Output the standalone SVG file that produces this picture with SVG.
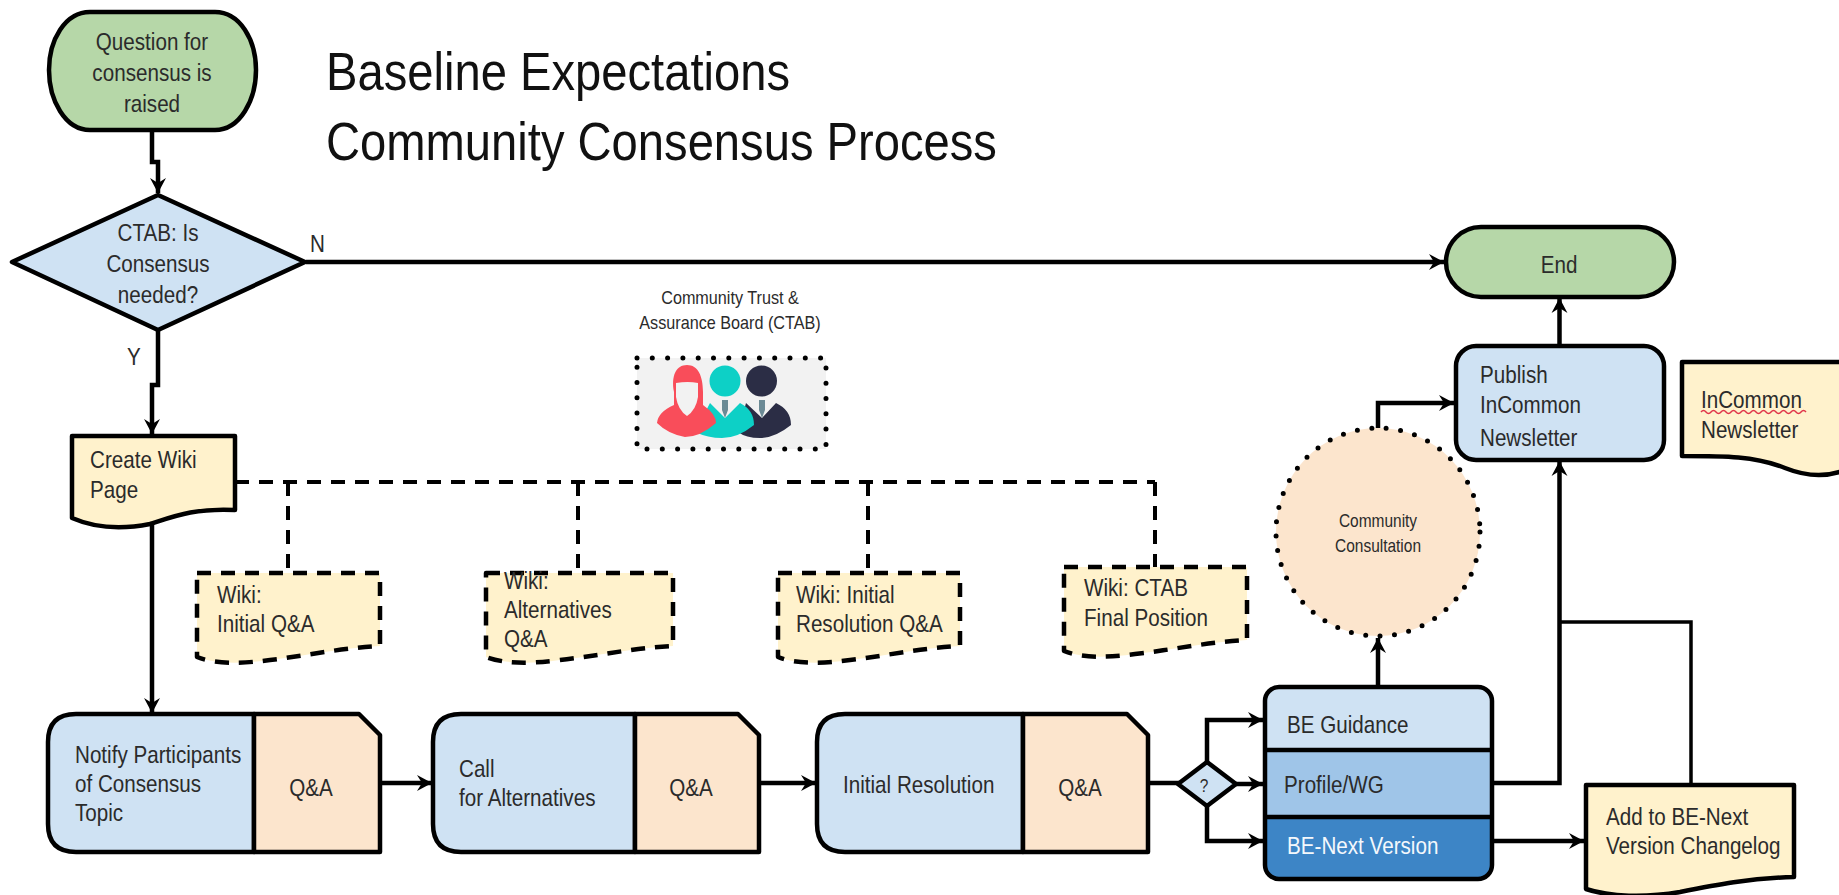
<svg xmlns="http://www.w3.org/2000/svg" width="1839" height="895" viewBox="0 0 1839 895">
<style>
text{font-family:"Liberation Sans",Arial,sans-serif;font-size:24px;fill:#2b2b2b}
.m{text-anchor:middle}
.s{font-size:18px}
.t{font-size:53px;fill:#111}
.w{fill:#f4f8fc}
.sh{stroke:#000;stroke-width:4.5;stroke-linejoin:round}
.g{fill:#b6d7a8}.b{fill:#cfe2f3}.p{fill:#fce5cd}.y{fill:#fff2cc}
.da{stroke-dasharray:14 10}
.c{fill:none;stroke:#000;stroke-width:4.5;stroke-linejoin:miter}
.ar{marker-end:url(#a)}
.d{fill:none;stroke:#000;stroke-width:4;stroke-dasharray:14 10}
</style>
<defs>
<marker id="a" markerUnits="userSpaceOnUse" viewBox="-15 -9 17 18" refX="1" refY="0" markerWidth="17" markerHeight="18" orient="auto">
<path d="M-14,-8 L1,0 L-14,8 L-9,0 Z" fill="#000"/>
</marker>
</defs>
<rect width="1839" height="895" fill="#fff"/>
<g id="title">
<text class="t" transform="matrix(.89 0 0 1 326 90)">Baseline Expectations</text>
<text class="t" transform="matrix(.89 0 0 1 326 160)">Community Consensus Process</text>
</g>
<g id="connectors">
<path class="c ar" d="M152,131V162H158V193"/>
<path class="c ar" d="M158,331V385H152V434"/>
<path class="c ar" d="M306,262H1444"/>
<path class="c ar" d="M152,510V713"/>
<path class="c ar" d="M380,783H432"/>
<path class="c ar" d="M759,783H816"/>
<path class="c" d="M1148,783H1179"/>
<path class="c ar" d="M1207,762V720H1263"/>
<path class="c ar" d="M1236,784H1263"/>
<path class="c ar" d="M1207,806V841H1263"/>
<path class="c ar" d="M1378,687V638"/>
<path class="c ar" d="M1378,428V403H1454"/>
<path class="c ar" d="M1492,783H1559.500V461"/>
<path class="c" style="stroke-width:3.500" d="M1559,622H1691V785"/>
<path class="c ar" d="M1492,841H1584"/>
<path class="c ar" d="M1559.500,346V298"/>
<path class="d" d="M235,482H1155M288,482V573M578,482V572M868,482V573M1155,482V567"/>
</g>
<g id="start">
<path class="sh g" d="M90,12H215C240,12 256,40 256,70C256,100 240,130 215,130H90C65,130 49,100 49,70C49,40 65,12 90,12Z"/>
<text class="m" transform="matrix(.86 0 0 1 152 50)">Question for</text>
<text class="m" transform="matrix(.86 0 0 1 152 81)">consensus is</text>
<text class="m" transform="matrix(.86 0 0 1 152 112)">raised</text>
</g>
<g id="decision">
<path class="sh b" d="M158,195L305,262L158,330L12,262Z"/>
<text class="m" transform="matrix(.86 0 0 1 158 241)">CTAB: Is</text>
<text class="m" transform="matrix(.86 0 0 1 158 272)">Consensus</text>
<text class="m" transform="matrix(.86 0 0 1 158 303)">needed?</text>
<text transform="matrix(.86 0 0 1 310 252)">N</text>
<text transform="matrix(.86 0 0 1 127 365)">Y</text>
</g>
<g id="ctab">
<text class="m s" transform="matrix(.9 0 0 1 730 304)">Community Trust &amp;</text>
<text class="m s" transform="matrix(.9 0 0 1 730 329)">Assurance Board (CTAB)</text>
<rect x="637" y="358" width="189" height="91" fill="#f2f2f2"/>
<rect x="637" y="358" width="189" height="91" fill="none" stroke="#000" stroke-width="5" stroke-linecap="round" stroke-dasharray="0 15.300"/>
<circle cx="761.500" cy="381" r="15.500" fill="#2b2d45"/>
<path d="M746,403L762,418L776,403Q791,410 791,425Q775,438 760,438Q746,438 738,432Z" fill="#2b2d45"/>
<circle cx="725" cy="381" r="15.500" fill="#0dd0c6"/>
<path d="M710,403L725,418L740,403Q754,410 754,425Q738,438 722,438Q708,438 695,432Z" fill="#0dd0c6"/>
<path d="M687,365C698,365 703,376 703,392V405Q716,414 716,423Q700,437 685,437Q668,434 657,423Q658,412 674,405V392C671,376 676,365 687,365Z" fill="#f94d5a"/>
<path d="M676,383Q688,381 698,383V397Q696,410 687,416Q678,410 676,397Z" fill="#f2f2f2"/>
<path d="M722,400H728V410L725,418L722,410ZM759,400H765V410L762,418L759,410Z" fill="#6b8a95"/>
</g>
<g id="wiki-page">
<path class="sh y" d="M72,436H235V510C195,508 175,516 150,524C120,530 95,528 72,518Z"/>
<text transform="matrix(.86 0 0 1 90 468)">Create Wiki</text>
<text transform="matrix(.86 0 0 1 90 498)">Page</text>
</g>
<g id="wiki-1">
<path class="sh y da" d="M197,573H380V646C340,648 305,656 270,660C240,664 215,664 197,657Z"/>
<text transform="matrix(.86 0 0 1 217 603)">Wiki:</text>
<text transform="matrix(.86 0 0 1 217 632)">Initial Q&amp;A</text>
</g>
<g id="wiki-2">
<path class="sh y da" d="M486,573H673V646C633,648 597,656 560,660C530,664 505,664 486,657Z"/>
<text transform="matrix(.86 0 0 1 504 589)">Wiki:</text>
<text transform="matrix(.86 0 0 1 504 618)">Alternatives</text>
<text transform="matrix(.86 0 0 1 504 647)">Q&amp;A</text>
</g>
<g id="wiki-3">
<path class="sh y da" d="M778,573H960V646C920,648 885,656 850,660C820,664 795,664 778,657Z"/>
<text transform="matrix(.86 0 0 1 796 603)">Wiki: Initial</text>
<text transform="matrix(.86 0 0 1 796 632)">Resolution Q&amp;A</text>
</g>
<g id="wiki-4">
<path class="sh y da" d="M1064,567H1247V640C1207,642 1172,650 1135,654C1105,658 1082,658 1064,651Z"/>
<text transform="matrix(.86 0 0 1 1084 596)">Wiki: CTAB</text>
<text transform="matrix(.86 0 0 1 1084 626)">Final Position</text>
</g>
<g id="notify">
<path class="sh b" d="M254,714H76Q48,714 48,742V824Q48,852 76,852H254Z"/>
<path class="sh p" d="M254,714H359L380,735V852H254Z"/>
<text transform="matrix(.86 0 0 1 75 763)">Notify Participants</text>
<text transform="matrix(.86 0 0 1 75 792)">of Consensus</text>
<text transform="matrix(.86 0 0 1 75 821)">Topic</text>
<text class="m" transform="matrix(.86 0 0 1 311 796)">Q&amp;A</text>
</g>
<g id="call">
<path class="sh b" d="M635,714H461Q433,714 433,742V824Q433,852 461,852H635Z"/>
<path class="sh p" d="M635,714H738L759,735V852H635Z"/>
<text transform="matrix(.86 0 0 1 459 777)">Call</text>
<text transform="matrix(.86 0 0 1 459 806)">for Alternatives</text>
<text class="m" transform="matrix(.86 0 0 1 691 796)">Q&amp;A</text>
</g>
<g id="resolution">
<path class="sh b" d="M1023,714H845Q817,714 817,742V824Q817,852 845,852H1023Z"/>
<path class="sh p" d="M1023,714H1127L1148,735V852H1023Z"/>
<text transform="matrix(.86 0 0 1 843 793)">Initial Resolution</text>
<text class="m" transform="matrix(.86 0 0 1 1080 796)">Q&amp;A</text>
</g>
<g id="choice">
<path class="sh b" d="M1207,762L1236,784L1207,806L1178,784Z"/>
<text class="m s" transform="matrix(.86 0 0 1 1204 792)">?</text>
</g>
<g id="be-stack">
<path class="b" d="M1265,750V701Q1265,687 1279,687H1478Q1492,687 1492,701V750Z"/>
<rect x="1265" y="750" width="227" height="67" fill="#9fc5e8"/>
<path fill="#3d85c6" d="M1265,817H1492V865Q1492,879 1478,879H1279Q1265,879 1265,865Z"/>
<rect class="sh" x="1265" y="687" width="227" height="192" rx="14" fill="none"/>
<path class="c" d="M1265,750H1492M1265,817H1492"/>
<text transform="matrix(.86 0 0 1 1287 733)">BE Guidance</text>
<text transform="matrix(.86 0 0 1 1284 793)">Profile/WG</text>
<text class="w" transform="matrix(.86 0 0 1 1287 854)">BE-Next Version</text>
</g>
<g id="consultation">
<ellipse cx="1378" cy="532" rx="102" ry="104" class="p" stroke="#000" stroke-width="5" stroke-linecap="round" stroke-dasharray="0 14.500"/>
<text class="m s" transform="matrix(.86 0 0 1 1378 527)">Community</text>
<text class="m s" transform="matrix(.86 0 0 1 1378 552)">Consultation</text>
</g>
<g id="end">
<rect class="sh g" x="1446" y="227" width="228" height="70" rx="35"/>
<text class="m" transform="matrix(.86 0 0 1 1559 273)">End</text>
</g>
<g id="publish">
<rect class="sh b" x="1456" y="346" width="208" height="114" rx="20"/>
<text transform="matrix(.86 0 0 1 1480 383)">Publish</text>
<text transform="matrix(.86 0 0 1 1480 413)">InCommon</text>
<text transform="matrix(.86 0 0 1 1480 446)">Newsletter</text>
</g>
<g id="newsletter">
<path class="sh y" d="M1682,362H1845V470C1825,478 1805,476 1785,468C1755,456 1725,456 1682,456Z"/>
<text transform="matrix(.86 0 0 1 1701 408)">InCommon</text>
<path d="M1701,412q2.500,-3 5,0t5,0t5,0t5,0t5,0t5,0t5,0t5,0t5,0t5,0t5,0t5,0t5,0t5,0t5,0t5,0t5,0t5,0t5,0t5,0t5,0" fill="none" stroke="#e0364a" stroke-width="1.500"/>
<text transform="matrix(.86 0 0 1 1701 438)">Newsletter</text>
</g>
<g id="changelog">
<path class="sh y" d="M1586,785H1794V877C1750,878 1715,885 1680,892C1645,898 1610,897 1586,889Z"/>
<text transform="matrix(.86 0 0 1 1606 825)">Add to BE-Next</text>
<text transform="matrix(.86 0 0 1 1606 854)">Version Changelog</text>
</g>
</svg>
